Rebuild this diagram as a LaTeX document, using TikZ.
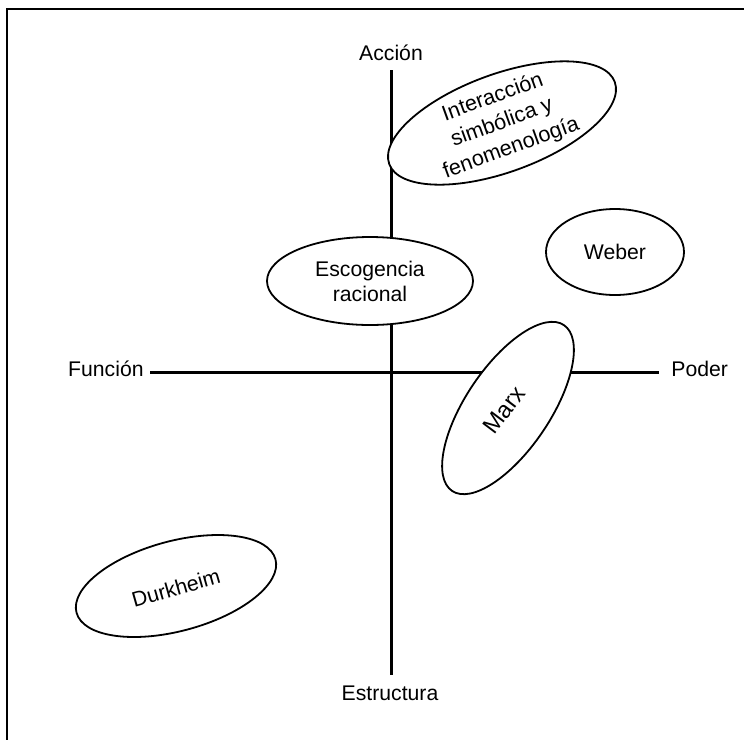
\documentclass[tikz,border=0pt]{standalone}
\usepackage{fontspec}
\setmainfont{Liberation Sans}
\usetikzlibrary{shapes.geometric}
\begin{document}
\begin{tikzpicture}[x=0.5pt,y=-0.5pt,
  every node/.style={font=\fontsize{10.6pt}{13pt}\selectfont},
  axis/.style={line width=1.5pt},
  frameline/.style={line width=1.4pt},
  oval/.style={ellipse,draw,fill=white,line width=0.9pt,inner sep=0pt,outer sep=0pt},
  lbl/.style={inner sep=0pt,align=center}]
\useasboundingbox (0,0) rectangle (744,740);
\draw[frameline] (744,9) -- (7,9) -- (7,740);
% axes
\coordinate (vtop) at (391,70);
\coordinate (vbot) at (391,675);
\coordinate (hleft) at (150,372);
\coordinate (hright) at (659,372);
\draw[axis] (vtop) -- (vbot);
\draw[axis] (hleft) -- (hright);
\node[lbl,anchor=base] (accion) at (391,60) {Acción};
\node[lbl,anchor=base] (estructura) at (390,700) {Estructura};
\node[lbl,anchor=base east] (funcion) at (144,376) {Función};
\node[lbl,anchor=base west] (poder) at (671,376) {Poder};
% ellipses
\node[oval,minimum width=120pt,minimum height=49pt,rotate=20] (inter) at (502,123) {};
\node[lbl,rotate=20,font=\fontsize{10.8pt}{13.5pt}\selectfont] (intertxt) at (inter.center) {Interacción\\simbólica y\\fenomenología};
\node[oval,minimum width=69pt,minimum height=43pt] (weber) at (615,252) {};
\node[lbl] (webertxt) at (weber.center) {Weber};
\node[oval,minimum width=103pt,minimum height=44pt] (escog) at (370,281) {};
\node[lbl,font=\fontsize{10.6pt}{12.5pt}\selectfont] (escogtxt) at (escog.center) {Escogencia\\racional};
\node[oval,minimum width=100pt,minimum height=42pt,rotate=56] (marx) at (508,408) {};
\node[lbl,rotate=53,font=\fontsize{11.8pt}{13pt}\selectfont] (marxtxt) at ([xshift=-2pt,yshift=-1pt]marx.center) {Marx};
\node[oval,minimum width=103pt,minimum height=45pt,rotate=15] (durk) at (176,586) {};
\node[lbl,rotate=16] (durktxt) at ([yshift=-1pt]durk.center) {Durkheim};
\end{tikzpicture}
\end{document}
